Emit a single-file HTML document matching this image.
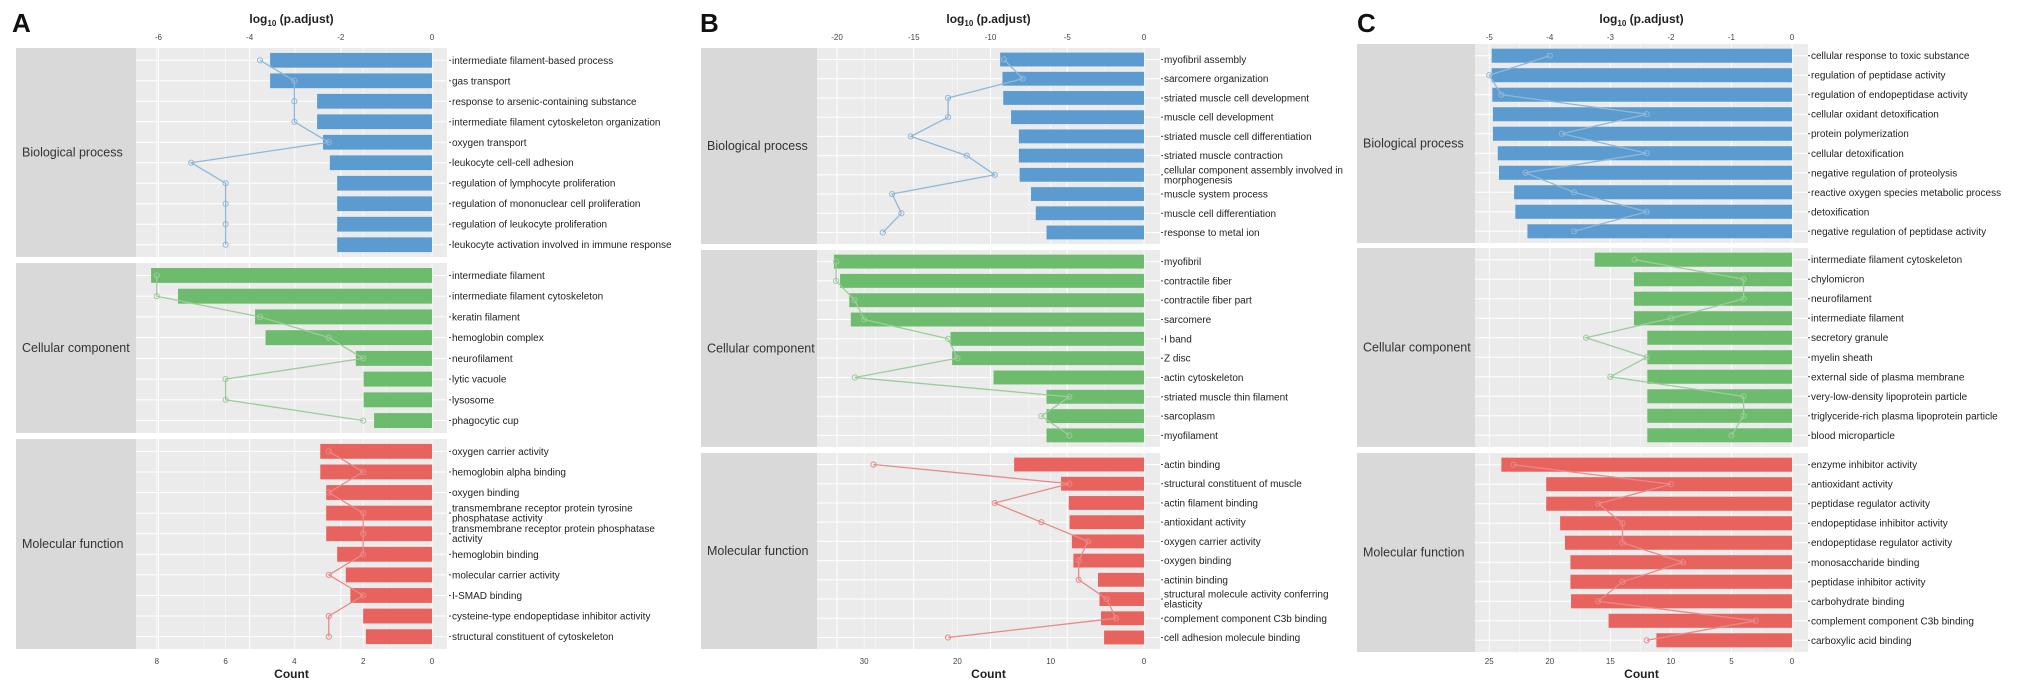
<!DOCTYPE html>
<html><head><meta charset="utf-8">
<style>
body{margin:0;background:#fff;}
svg{display:block;font-family:"Liberation Sans",Arial,sans-serif;}
</style></head>
<body>
<svg id="fig" width="2031" height="692" viewBox="0 0 2031 692" xmlns="http://www.w3.org/2000/svg"></svg>
<script>
// ---------- DATA ----------
const facetNames = ["Biological process","Cellular component","Molecular function"];

// Panel A
const aBpTerms = ["intermediate filament-based process","gas transport","response to arsenic-containing substance","intermediate filament cytoskeleton organization","oxygen transport","leukocyte cell-cell adhesion","regulation of lymphocyte proliferation","regulation of mononuclear cell proliferation","regulation of leukocyte proliferation","leukocyte activation involved in immune response"];
const aBpLogP = [-3.55,-3.55,-2.52,-2.52,-2.39,-2.24,-2.08,-2.08,-2.08,-2.08];
const aBpCount = [5,4,4,4,3,7,6,6,6,6];
const aCcTerms = ["intermediate filament","intermediate filament cytoskeleton","keratin filament","hemoglobin complex","neurofilament","lytic vacuole","lysosome","phagocytic cup"];
const aCcLogP = [-6.16,-5.57,-3.88,-3.65,-1.67,-1.5,-1.5,-1.27];
const aCcCount = [8,8,5,3,2,6,6,2];
const aMfTerms = ["oxygen carrier activity","hemoglobin alpha binding","oxygen binding","transmembrane receptor protein tyrosine\nphosphatase activity","transmembrane receptor protein phosphatase\nactivity","hemoglobin binding","molecular carrier activity","I-SMAD binding","cysteine-type endopeptidase inhibitor activity","structural constituent of cytoskeleton"];
const aMfLogP = [-2.45,-2.45,-2.32,-2.32,-2.32,-2.08,-1.89,-1.79,-1.51,-1.45];
const aMfCount = [3,2,3,2,2,2,3,2,3,3];
const aTopTicks = [-6,-4,-2,0];
const aBottomTicks = [8,6,4,2,0];

// Panel B
const bBpTerms = ["myofibril assembly","sarcomere organization","striated muscle cell development","muscle cell development","striated muscle cell differentiation","striated muscle contraction","cellular component assembly involved in\nmorphogenesis","muscle system process","muscle cell differentiation","response to metal ion"];
const bBpLogP = [-9.37,-9.22,-9.17,-8.66,-8.15,-8.15,-8.1,-7.36,-7.05,-6.35];
const bBpCount = [15,13,21,21,25,19,16,27,26,28];
const bCcTerms = ["myofibril","contractile fiber","contractile fiber part","sarcomere","I band","Z disc","actin cytoskeleton","striated muscle thin filament","sarcoplasm","myofilament"];
const bCcLogP = [-20.2,-19.8,-19.2,-19.1,-12.6,-12.5,-9.8,-6.35,-6.35,-6.35];
const bCcCount = [33,33,31,30,21,20,31,8,11,8];
const bMfTerms = ["actin binding","structural constituent of muscle","actin filament binding","antioxidant activity","oxygen carrier activity","oxygen binding","actinin binding","structural molecule activity conferring\nelasticity","complement component C3b binding","cell adhesion molecule binding"];
const bMfLogP = [-8.46,-5.4,-4.9,-4.85,-4.7,-4.6,-3.0,-2.9,-2.8,-2.6];
const bMfCount = [29,8,16,11,6,7,7,4,3,21];
const bTopTicks = [-20,-15,-10,-5,0];
const bBottomTicks = [30,20,10,0];

// Panel C
const cBpTerms = ["cellular response to toxic substance","regulation of peptidase activity","regulation of endopeptidase activity","cellular oxidant detoxification","protein polymerization","cellular detoxification","negative regulation of proteolysis","reactive oxygen species metabolic process","detoxification","negative regulation of peptidase activity"];
const cBpLogP = [-4.96,-4.96,-4.95,-4.94,-4.94,-4.86,-4.84,-4.59,-4.57,-4.37];
const cBpCount = [20,25,24,12,19,12,22,18,12,18];
const cCcTerms = ["intermediate filament cytoskeleton","chylomicron","neurofilament","intermediate filament","secretory granule","myelin sheath","external side of plasma membrane","very-low-density lipoprotein particle","triglyceride-rich plasma lipoprotein particle","blood microparticle"];
const cCcLogP = [-3.26,-2.61,-2.61,-2.61,-2.39,-2.39,-2.39,-2.39,-2.39,-2.39];
const cCcCount = [13,4,4,10,17,12,15,4,4,5];
const cMfTerms = ["enzyme inhibitor activity","antioxidant activity","peptidase regulator activity","endopeptidase inhibitor activity","endopeptidase regulator activity","monosaccharide binding","peptidase inhibitor activity","carbohydrate binding","complement component C3b binding","carboxylic acid binding"];
const cMfLogP = [-4.8,-4.06,-4.06,-3.83,-3.75,-3.66,-3.66,-3.65,-3.03,-2.24];
const cMfCount = [23,10,16,14,14,9,14,16,3,12];
const cTopTicks = [-5,-4,-3,-2,-1,0];
const cBottomTicks = [25,20,15,10,5,0];

// ---------- DRAW ----------
const NS = "http://www.w3.org/2000/svg";
const svg = document.getElementById("fig");
function mk(tag, attrs, parent){
  const e = document.createElementNS(NS, tag);
  for (const k in attrs) e.setAttribute(k, attrs[k]);
  (parent||svg).appendChild(e);
  return e;
}
const fillCols = ["#5b9bd0","#6dbb6d","#e8625e"];
const lineCols = ["#8fb8d8","#9ccc9c","#e88a88"];

function drawPanel(p){
  const g = mk("g",{});
  
  
  const xLog = v => p.zero + v * p.logPx;
  const xCnt = c => p.zero - c * p.cntPx;
  const L = mk("text",{x:p.letterX,y:32,"font-size":26,"font-weight":"bold",fill:"#111"},g);
  L.textContent = p.letter;
  
  
  const t = mk("text",{x:(p.plotL+p.plotR)/2,y:23,"font-size":12,"font-weight":"bold","text-anchor":"middle",fill:"#222"},g);
  t.innerHTML = 'log<tspan font-size="8" dy="3">10</tspan><tspan dy="-3"> (p.adjust)</tspan>';
  
  
  p.topTicks.forEach(v=>{
    const x = xLog(v);
    const tx = mk("text",{x:x,y:40,"font-size":8,"text-anchor":"middle",fill:"#444"},g);
    tx.textContent = v;
    
    
  });
  p.bottomTicks.forEach(v=>{
    const x = xCnt(v);
    const tx = mk("text",{x:x,y:664,"font-size":8,"text-anchor":"middle",fill:"#444"},g);
    tx.textContent = v;
    
    
  });
  const ct = mk("text",{x:(p.plotL+p.plotR)/2,y:678,"font-size":12,"font-weight":"bold","text-anchor":"middle",fill:"#222"},g);
  ct.textContent = "Count";
  
  

  p.facets.forEach((f,fi)=>{
    const terms = p.terms[fi], logp = p.logp[fi], cnt = p.count[fi];
    const n = terms.length;
    const h = f[1]-f[0];
    const step = h/(n+0.2);
    const yc = i => f[0] + (0.6+i)*step;
    const strip = mk("rect",{x:p.stripL,y:f[0],width:p.plotL-p.stripL,height:h,fill:"#d9d9d9"},g);
    
    
    const st = mk("text",{x:p.stripL+6,y:(f[0]+f[1])/2+4,"font-size":12.5,fill:"#333"},g);
    st.textContent = facetNames[fi];
    
    
    const bg = mk("rect",{x:p.plotL,y:f[0],width:p.plotR-p.plotL,height:h,fill:"#ebebeb"},g);
    
    
    for (let k=0;k<p.topTicks.length;k++){
      const v = p.topTicks[k];
      mk("line",{x1:xLog(v),x2:xLog(v),y1:f[0],y2:f[1],stroke:"#fff","stroke-width":1},g);
      if (k<p.topTicks.length-1){
        const m = (v+p.topTicks[k+1])/2;
        mk("line",{x1:xLog(m),x2:xLog(m),y1:f[0],y2:f[1],stroke:"#f6f6f6","stroke-width":0.6},g);
      }
    }
    p.bottomTicks.forEach(v=>{
      mk("line",{x1:xCnt(v),x2:xCnt(v),y1:f[0],y2:f[1],stroke:"#fafafa","stroke-width":0.7},g);
    });
    for (let i=0;i<n;i++){
      mk("line",{x1:p.plotL,x2:p.plotR,y1:yc(i),y2:yc(i),stroke:"#fff","stroke-width":1},g);
    }
    const bh = step*0.72;
    for (let i=0;i<n;i++){
      const x0 = xLog(logp[i]);
      const r = mk("rect",{x:x0,y:yc(i)-bh/2,width:p.zero-x0,height:bh,fill:fillCols[fi]},g);
      
      
      const lines = terms[i].split("\n");
      mk("line",{x1:p.labelX-3,x2:p.labelX-1,y1:yc(i),y2:yc(i),stroke:"#444","stroke-width":1},g);
      const tx = mk("text",{x:p.labelX,y:yc(i)+3.5-(lines.length-1)*5,"font-size":10,fill:"#222"},g);
      lines.forEach((ln,li)=>{
        const ts = mk("tspan",{x:p.labelX,dy:li===0?0:10},tx);
        ts.textContent = ln;
      });
      
      
    }
    let d = "";
    for (let i=0;i<n;i++) d += (i?"L":"M") + xCnt(cnt[i]).toFixed(1) + "," + yc(i).toFixed(1);
    const pl = mk("path",{d:d,fill:"none",stroke:lineCols[fi],"stroke-width":1.3},g);
    
    
    for (let i=0;i<n;i++){
      const c = mk("circle",{cx:xCnt(cnt[i]),cy:yc(i),r:2.6,fill:"none",stroke:lineCols[fi],"stroke-width":1},g);
      
      
    }
  });
}

drawPanel({letter:"A",letterX:12,stripL:16,plotL:136,plotR:447,zero:432,logPx:45.6,cntPx:34.4,labelX:452,
  facets:[[48,257],[263,433],[439,649]],
  terms:[aBpTerms,aCcTerms,aMfTerms],logp:[aBpLogP,aCcLogP,aMfLogP],count:[aBpCount,aCcCount,aMfCount],
  topTicks:aTopTicks,bottomTicks:aBottomTicks});
drawPanel({letter:"B",letterX:700,stripL:701,plotL:817,plotR:1160,zero:1144,logPx:15.35,cntPx:9.33,labelX:1164,
  facets:[[48,244],[250,447],[453,649]],
  terms:[bBpTerms,bCcTerms,bMfTerms],logp:[bBpLogP,bCcLogP,bMfLogP],count:[bBpCount,bCcCount,bMfCount],
  topTicks:bTopTicks,bottomTicks:bBottomTicks});
drawPanel({letter:"C",letterX:1357,stripL:1357,plotL:1475,plotR:1808,zero:1792,logPx:60.54,cntPx:12.11,labelX:1811,
  facets:[[44,243],[248,447],[453,652]],
  terms:[cBpTerms,cCcTerms,cMfTerms],logp:[cBpLogP,cCcLogP,cMfLogP],count:[cBpCount,cCcCount,cMfCount],
  topTicks:cTopTicks,bottomTicks:cBottomTicks});
</script>
</body></html>
